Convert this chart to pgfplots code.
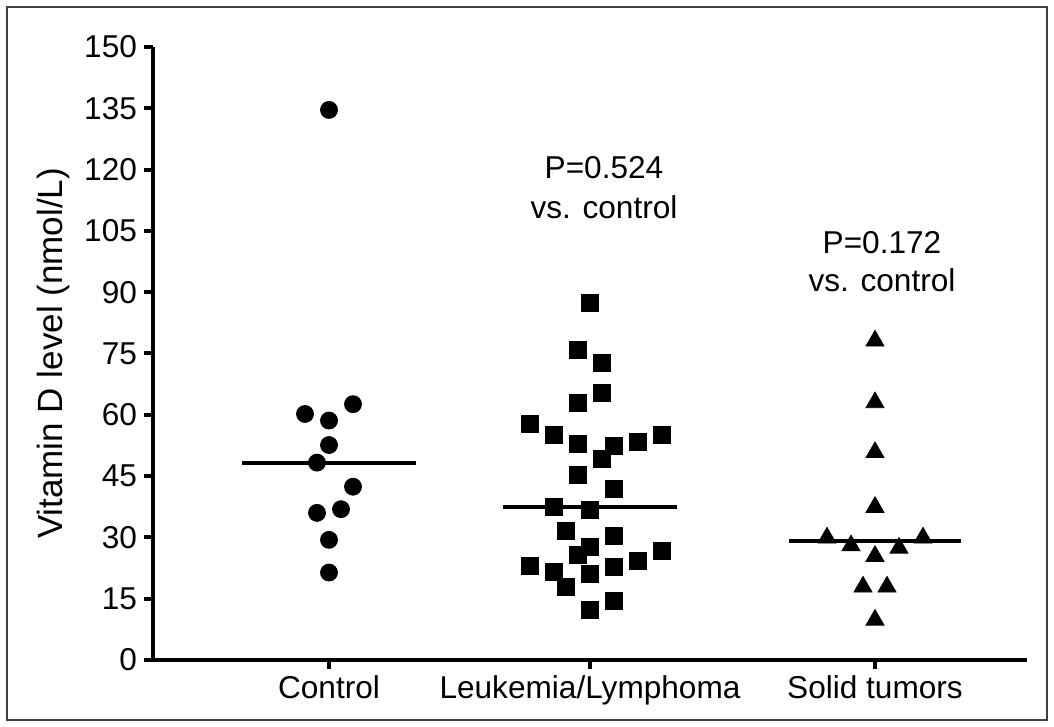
\documentclass[border=0pt]{standalone}
\usepackage{fontspec}
\setmainfont{Liberation Sans}
\usepackage{pgfplots}
\pgfplotsset{compat=1.18}

% x is measured in pixels from the y axis; categories sit at 176, 437, 722
\begin{document}
\begin{tikzpicture}[x=0.5pt,y=0.5pt]
\useasboundingbox (0,0) rectangle (1054,727);
\draw[black!75, line width=0.7pt] (7,7) rectangle (1047,720);
\coordinate (origin) at (153,67);
\begin{axis}[
    at={(origin)}, anchor=south west,
    scale only axis, width=437pt, height=306.5pt,
    xmin=0, xmax=874, ymin=0, ymax=150,
    axis x line=bottom, axis y line=left,
    axis line style={-, line width=2pt},
    ytick={0,15,...,150},
    xtick={176,437,722},
    xticklabels={Control, Leukemia/Lymphoma, Solid tumors},
    tick align=outside, major tick length=4.5pt,
    tick style={line width=2pt, black},
    /pgf/number format/assume math mode=true,
    ticklabel style={font=\fontsize{15.8}{18}\selectfont},
    ylabel={Vitamin D level (nmol/L)},
    ylabel style={font=\fontsize{17.5}{20}\selectfont,
        at={(axis description cs:-0.103,0.5)}, anchor=base},
    clip=false,
]
% Control
\addplot[only marks, mark=*, mark size=4.25pt, black] coordinates {
    (176,134.6) (152,60.2) (200,62.6) (176,58.6) (176,52.6) (164,48.3)
    (200,42.4) (164,36.0) (188,36.9) (176,29.4) (176,21.4)
};
% Leukemia/Lymphoma
\addplot[only marks, mark=square*, mark size=4.25pt, black] coordinates {
    (437,87.4) (425,75.9) (449,72.6) (449,65.3) (425,62.9) (377,57.7)
    (401,55.0) (425,53.0) (461,52.5) (485,53.3) (509,55.0) (449,49.3)
    (425,45.4) (461,41.8) (401,37.4) (437,36.7) (413,31.7) (461,30.3)
    (437,27.6) (425,25.6) (509,26.7) (485,24.2) (377,23.0) (401,21.5)
    (461,22.8) (437,21.0) (413,17.8) (461,14.4) (437,12.2)
};
% Solid tumors
\addplot[only marks, mark=triangle*, mark size=5.2pt, black] coordinates {
    (722,78.1) (722,63.0) (722,50.8) (722,37.4) (674,29.9) (770,29.9)
    (698,28.0) (746,27.4) (722,25.4) (710,17.9) (734,17.9) (722,9.8)
};
% means
\addplot[black, line width=2pt] coordinates {(89,48.3) (263,48.3)};
\addplot[black, line width=2pt] coordinates {(350,37.4) (524,37.4)};
\addplot[black, line width=2pt] coordinates {(636,29.2) (808,29.2)};

\node[align=center, font=\fontsize{15.8}{20}\selectfont] at (axis cs:451,115.5) {P=0.524\\vs. control};
\node[align=center, font=\fontsize{15.8}{19}\selectfont] at (axis cs:729,97.5) {P=0.172\\vs. control};
\end{axis}
\end{tikzpicture}
\end{document}
